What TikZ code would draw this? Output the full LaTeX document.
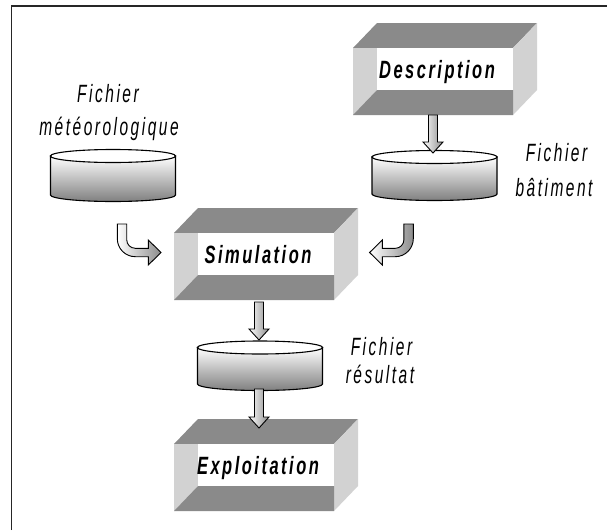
\documentclass[tikz,border=0pt]{standalone}
\usepackage{fontspec}
\newfontfamily\lblfont{Liberation Sans}[FakeStretch=0.62,LetterSpace=10]
\newfontfamily\boxfont{Liberation Sans}[FakeStretch=0.66,LetterSpace=10]
\definecolor{facedark}{HTML}{8A8A8A}
\definecolor{facelight}{HTML}{D2D2D2}
\tikzset{
  filelbl/.style={inner sep=0pt, anchor=base, font=\lblfont\itshape\fontsize{25}{28}\selectfont},
  boxlbl/.style={inner sep=0pt, anchor=base, font=\boxfont\bfseries\itshape\fontsize{25}{28}\selectfont},
  blockarrow/.style={draw=black, line width=0.9pt, left color=white, right color=black!45},
  drumbody/.style={draw=black, line width=1.1pt, top color=white, bottom color=black!50},
  drumtop/.style={draw=black, line width=1.1pt, fill=white},
  frameline/.style={draw=black!85, line width=1.4pt}
}
% #1 name, #2 x, #3 y (front top-left), #4 text
\newcommand\tubebox[4]{%
  \begin{scope}[shift={(#2,#3)}]
    \fill[facedark] (0,0) -- (24,-25) -- (184,-25) -- (160,0) -- cycle;
    \fill[facelight] (160,0) -- (184,-25) -- (184,42) -- (160,67) -- cycle;
    \fill[facelight] (0,0) -- (24,0) -- (24,42) -- (0,67) -- cycle;
    \fill[facedark] (0,67) -- (24,42) -- (160,42) -- (160,67) -- cycle;
    \fill[white] (24,0) rectangle (160,42);
    \node[boxlbl] (#1) at (84,30) {#4};
  \end{scope}}
% #1 name, #2 center x, #3 top ellipse y, #4 bottom ellipse y
\newcommand\drum[4]{%
  \begin{scope}[shift={(#2,0)}]
    \path[drumbody] (-62.5,#3) -- (-62.5,#4)
      .. controls (-62.5,#4+3.6) and (-34.5,#4+6.5) .. (0,#4+6.5)
      .. controls (34.5,#4+6.5) and (62.5,#4+3.6) .. (62.5,#4)
      -- (62.5,#3) -- cycle;
    \path[drumtop] (0,#3) ellipse [x radius=62.5pt, y radius=6.5pt];
    \coordinate (#1) at (0,#3);
  \end{scope}}
% #1 center x, #2 top y, #3 tip y
\newcommand\downblock[3]{%
  \path[blockarrow] (#1-4.5,#2) -- (#1-4.5,#3-11) -- (#1-10,#3-11) -- (#1,#3)
    -- (#1+10,#3-11) -- (#1+4.5,#3-11) -- (#1+4.5,#2) -- cycle;}
\newcommand\bendblock{%
  \path[blockarrow] (117.3,224) -- (117.3,238.7)
    .. controls (117.3,248.6) and (125.4,256.7) .. (135.3,256.7)
    -- (148.3,256.7) -- (148.3,265) -- (161,252.5) -- (148.3,240) -- (148.3,248.3)
    -- (135.3,248.3) .. controls (130.5,248.3) and (126.7,244.4) .. (126.7,239.7)
    -- (126.7,224) -- cycle;}
\begin{document}
\begin{tikzpicture}[x=1pt,y=-1pt]
  \useasboundingbox (0,0) rectangle (607,530);
  \fill[white] (0,0) rectangle (607,530);
  \path[frameline] (11.7,530) -- (11.7,6) -- (607,6);

  % boxes
  \tubebox{desc}{353}{48}{Description}
  \tubebox{simu}{174}{233}{Simulation}
  \tubebox{expl}{174}{444}{Exploitation}

  % drums
  \drum{meteo}{113}{156}{195}
  \drum{bat}{434.5}{157}{194}
  \drum{res}{260}{347.5}{384}

  % labels
  \node[filelbl] (lm1) at (108,102) {Fichier};
  \node[filelbl] (lm2) at (109,135) {météorologique};
  \node[filelbl] (lb1) at (556.5,161.5) {Fichier};
  \node[filelbl] (lb2) at (554,196.5) {bâtiment};
  \node[filelbl] (lr1) at (381.5,355) {Fichier};
  \node[filelbl] (lr2) at (380,383.5) {résultat};

  % arrows
  \downblock{433}{115}{153}
  \downblock{259}{302}{340}
  \downblock{259}{389}{428}
  \bendblock
  \begin{scope}[xshift=530.6pt, xscale=-1]
    \bendblock
  \end{scope}
\end{tikzpicture}
\end{document}
